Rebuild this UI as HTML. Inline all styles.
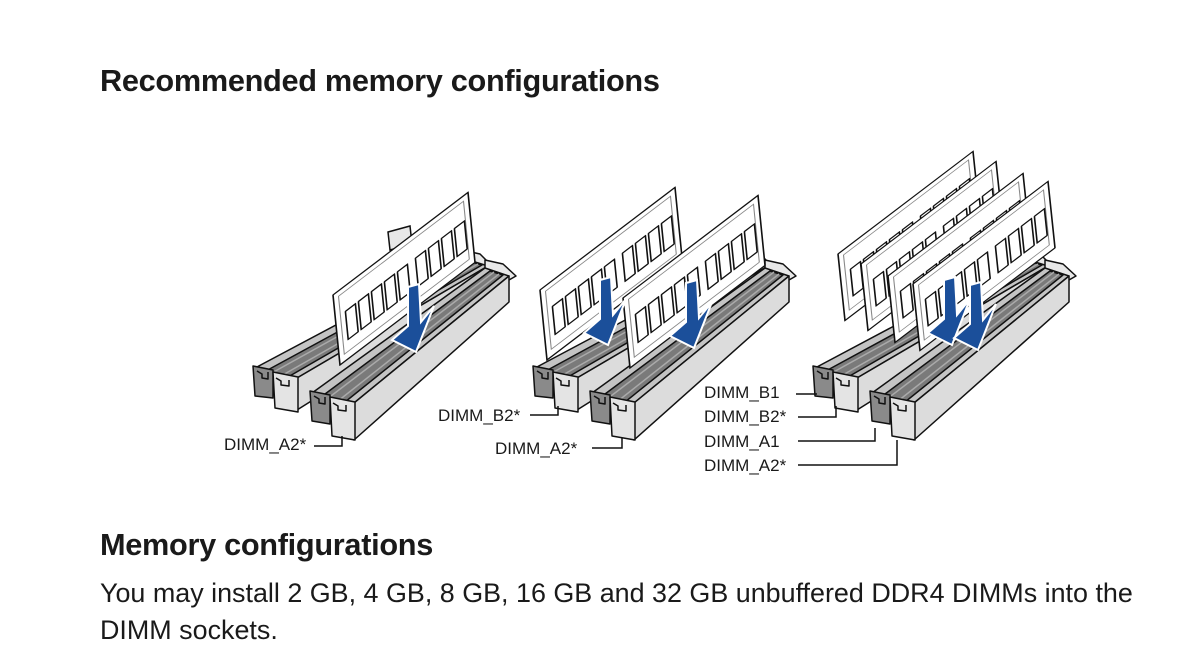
<!DOCTYPE html>
<html><head><meta charset="utf-8"><style>
html,body{margin:0;padding:0;background:#fff;}
body{width:1200px;height:663px;position:relative;overflow:hidden;font-family:"Liberation Sans",sans-serif;color:#1a1a1a;}
.h{position:absolute;left:100px;font-weight:bold;font-size:30.7px;letter-spacing:-0.3px;}
.p{position:absolute;left:100px;font-size:26.9px;line-height:37px;}
svg{position:absolute;left:0;top:0;}
</style></head><body>
<div class="h" style="top:63px">Recommended memory configurations</div>
<div class="h" style="top:527px">Memory configurations</div>
<div class="p" style="top:575px">You may install 2 GB, 4 GB, 8 GB, 16 GB and 32 GB unbuffered DDR4 DIMMs into the<br>DIMM sockets.</div>
<svg width="1200" height="663" viewBox="0 0 1200 663">
<defs>
<g id="pair" stroke="#111" stroke-width="1.5" stroke-linejoin="round">
  <polygon points="462,250 480,254 494,268 488,272 462,262" fill="#e8e8e8"/>
  <polygon points="255,368 297,378 488,266 462,258" fill="#c4c4c4"/>
  <polygon points="264,372 288,377 482,265 468,261" fill="#7a7a7a"/>
  <line x1="270" y1="374" x2="472" y2="262" stroke="#aaa" stroke-width="1.5"/>
  <line x1="281" y1="376" x2="478" y2="264" stroke="#aaa" stroke-width="1.5"/>
  <polygon points="297,378 297,410 488,290 488,266" fill="#dcdcdc"/>
  <polygon points="253,366 273,370 273,398 255,396" fill="#8a8a8a"/>
  <polygon points="273,372 298,377 298,412 275,408" fill="#e4e4e4"/>
  <polyline points="257,371 262,374 262,378 268,379 268,372" fill="none"/>
  <polyline points="276,378 281,381 281,385 289,386 289,380" fill="none"/>
  <polygon points="485,260 503,264 516,276 509,280 485,272" fill="#e8e8e8"/>
  <polygon points="312,393 354,403 509,276 485,268" fill="#c4c4c4"/>
  <polygon points="321,397 345,402 503,275 490,271" fill="#7a7a7a"/>
  <line x1="327" y1="399" x2="494" y2="272" stroke="#aaa" stroke-width="1.5"/>
  <line x1="338" y1="401" x2="499" y2="274" stroke="#aaa" stroke-width="1.5"/>
  <polygon points="354,403 354,440 509,302 509,276" fill="#dcdcdc"/>
  <polygon points="310,391 330,395 330,424 312,421" fill="#8a8a8a"/>
  <polygon points="330,397 355,402 355,440 332,436" fill="#e4e4e4"/>
  <polyline points="314,396 319,399 319,403 325,404 325,397" fill="none"/>
  <polyline points="333,403 338,406 338,410 346,411 346,405" fill="none"/>
</g>
<g id="mod" stroke="#111" stroke-width="1.5" stroke-linejoin="round">
  <rect x="0" y="0" width="135" height="70" fill="#fff"/>
  <rect x="5" y="5" width="125" height="58" fill="none" stroke="#888" stroke-width="1"/>
  <rect x="10" y="24" width="10" height="28" fill="#fff"/>
  <rect x="23" y="24" width="10" height="28" fill="#fff"/>
  <rect x="36" y="24" width="10" height="28" fill="#fff"/>
  <rect x="49" y="24" width="10" height="28" fill="#fff"/>
  <rect x="62" y="24" width="10" height="28" fill="#fff"/>
  <rect x="80" y="24" width="10" height="28" fill="#fff"/>
  <rect x="93" y="24" width="10" height="28" fill="#fff"/>
  <rect x="106" y="24" width="10" height="28" fill="#fff"/>
  <rect x="119" y="24" width="10" height="28" fill="#fff"/>
</g>
<polygon id="arr" points="-6,-65 5,-68 7,-30 20,-46 2,0 -22,-12 -6,-26" fill="#1b4f9a" stroke="#fff" stroke-width="2"/>
</defs>

<use href="#pair"/>
<use href="#pair" transform="translate(280,0)"/>
<use href="#pair" transform="translate(560,0)"/>

<polygon points="388,232 410,226 412,244 390,250" fill="#e8e8e8" stroke="#111" stroke-width="1.5"/>
<use href="#mod" transform="matrix(1,-0.76,0.1,1,333,295)"/>
<use href="#arr" transform="translate(414,352)"/>

<use href="#mod" transform="matrix(1,-0.76,0.1,1,540,290)"/>
<use href="#mod" transform="matrix(1,-0.76,0.1,1,623,298)"/>
<use href="#arr" transform="translate(606,345)"/>
<use href="#arr" transform="translate(692,348)"/>

<use href="#mod" transform="matrix(1,-0.76,0.1,0.95,838,254)"/>
<use href="#mod" transform="matrix(1,-0.76,0.1,0.95,861,264)"/>
<use href="#mod" transform="matrix(1,-0.76,0.1,0.95,888,276)"/>
<use href="#mod" transform="matrix(1,-0.76,0.1,0.95,913,284)"/>
<use href="#arr" transform="translate(950,345)"/>
<use href="#arr" transform="translate(976,350)"/>

<g font-family="Liberation Sans, sans-serif" font-size="17" fill="#1a1a1a">
  <text x="224" y="450">DIMM_A2*</text>
  <text x="438" y="421">DIMM_B2*</text>
  <text x="495" y="454">DIMM_A2*</text>
  <text x="704" y="398">DIMM_B1</text>
  <text x="704" y="422">DIMM_B2*</text>
  <text x="704" y="447">DIMM_A1</text>
  <text x="704" y="471">DIMM_A2*</text>
</g>
<g fill="none" stroke="#111" stroke-width="1.5">
  <polyline points="314,446 342,446 342,436"/>
  <polyline points="530,415 558,415 558,406"/>
  <polyline points="592,448 622,448 622,438"/>
  <polyline points="796,394 817,394"/>
  <polyline points="798,417 836,417 836,406"/>
  <polyline points="798,441 875,441 875,428"/>
  <polyline points="798,465 897,465 897,440"/>
</g>
</svg>
</body></html>
